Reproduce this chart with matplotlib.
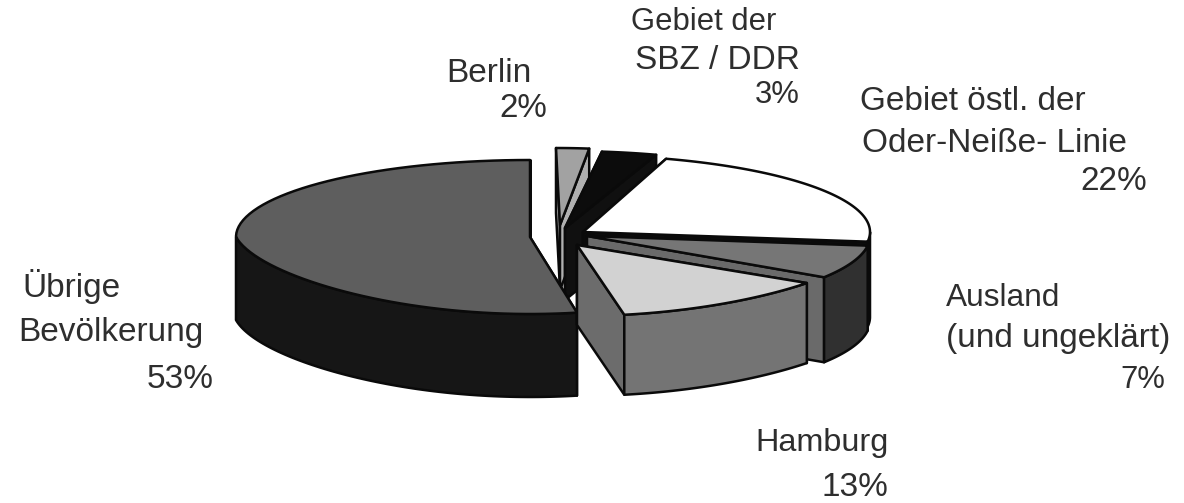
import numpy as np
import matplotlib
matplotlib.use('Agg')
import matplotlib.pyplot as plt
from matplotlib.patches import Polygon

# Anteile in Prozent, im Uhrzeigersinn ab 12 Uhr
names = ['Berlin', 'SBZ/DDR', 'Oder-Neisse', 'Ausland', 'Hamburg', 'Uebrige']
shares = [2, 3, 22, 7, 13, 53]

# Aufteilung der Beschriftung
label_lines = [
    ['Gebiet der', 'SBZ / DDR', '3%'],
    ['Berlin', '2%'],
    ['Gebiet östl. der', 'Oder-Neiße- Linie', '22%'],
    ['Ausland', '(und ungeklärt)', '7%'],
    ['Hamburg', '13%'],
    ['Übrige', 'Bevölkerung', '53%'],
]

# Layout in Pixeln: x, y, Breite der Zeile
label_pos = [
    [(631, 22, 144), (635, 60, 168), (755, 95, 45)],
    [(446, 73, 101), (499, 108, 48)],
    [(860, 101, 240), (862, 143, 280), (1080, 182, 68)],
    [(946, 298, 114), (946, 339, 232), (1120, 380, 45)],
    [(755, 443, 133), (822, 487, 68)],
    [(22, 287, 106), (18, 332, 185), (147, 380, 68)],
]

# Mittelpunkt x, y und Radien je Stueck (explodiert, leicht verschieden)
centers = [(556, 225), (565, 228), (575, 232), (575, 236), (577, 245), (530, 237)]
apex_dx = [4, 0, 8, 12, 0, 0]
rx = [265, 295, 295, 295, 296, 294]
ry = [77, 77, 77, 77, 71, 77]
warp = [0, 0, 0, 0, 0.15, 0.15]
depth = [65, 72, 85, 85, 80, 83]
top_col = ['#a2a2a2', '#0c0c0c', '#ffffff', '#767676', '#d2d2d2', '#5e5e5e']
side_col = ['#b0b0b0', '#101010', '#0c0c0c', '#303030', '#747474', '#161616']
cut_col = ['#b0b0b0', '#101010', '#0c0c0c', '#6a6a6a', '#6c6c6c', '#161616']
draw_order = [0, 1, 2, 3, 5, 4]

fig = plt.figure(figsize=(11.84, 5.03), dpi=100)
ax = fig.add_axes([0, 0, 1, 1])
ax.set_xlim(0, 1184)
ax.set_ylim(503, 0)
ax.axis('off')

edges = np.cumsum([0] + shares) * 3.6


def rim(i, a0, a1):
    a = np.radians(np.linspace(a0, a1, 80))
    cx, cy = centers[i]
    squeeze = 1 + warp[i] * np.minimum(np.cos(a), 0)
    return np.column_stack([cx + rx[i] * np.sin(a) * squeeze, cy - ry[i] * np.cos(a)])


def face(pts, color, lw=1.8):
    ax.add_patch(Polygon(pts, closed=True, facecolor=color, edgecolor='#0a0a0a',
                         linewidth=lw, joinstyle='round'))


for i in draw_order:
    a0, a1 = edges[i], edges[i + 1]
    apex = np.array(centers[i], dtype=float) + [apex_dx[i], 0]
    d = np.array([0, depth[i]])
    arc = rim(i, a0, a1)
    # Schnittflaechen
    face([apex, arc[0], arc[0] + d, apex + d], cut_col[i])
    face([apex, arc[-1], arc[-1] + d, apex + d], cut_col[i])
    # Aussenwand, nur der vordere Teil ist sichtbar
    lo, hi = max(a0, 90), min(a1, 270)
    if lo < hi:
        wall = rim(i, lo, hi)
        face(np.vstack([wall, (wall + d)[::-1]]), side_col[i])
    face(np.vstack([apex, arc]), top_col[i])

# Zeilen auf die gemessene Breite bringen
renderer = fig.canvas.get_renderer()
for lines, pos in zip(label_lines, label_pos):
    for line, (x, y, w) in zip(lines, pos):
        t = ax.text(x, y, line, fontsize=22, family='Liberation Sans', color='#2e2e2e',
                    ha='left', va='center')
        size = 22 * w / t.get_window_extent(renderer).width
        t.set_fontsize(min(max(size, 22), 24))

fig.savefig('out.png', dpi=100)
